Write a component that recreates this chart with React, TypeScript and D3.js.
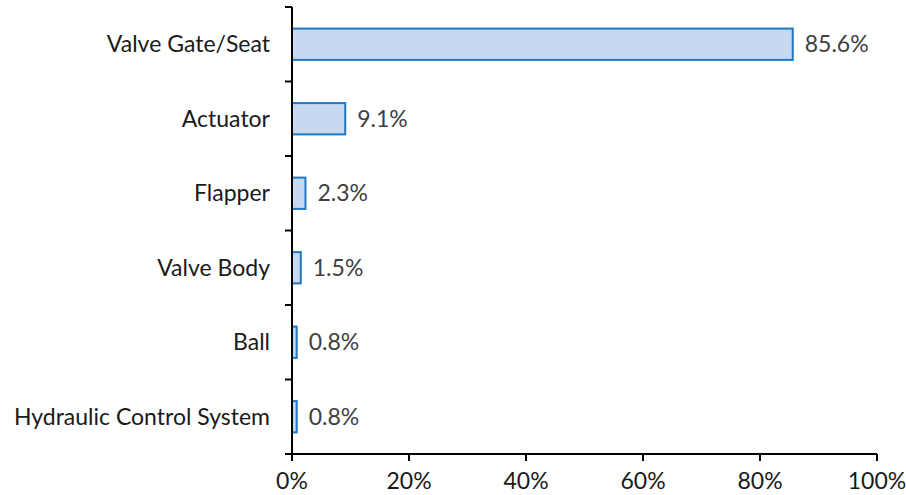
import React from "react";
import * as d3 from "d3";

// Failure share by component
const categories = [
  "Valve Gate/Seat",
  "Actuator",
  "Flapper",
  "Valve Body",
  "Ball",
  "Hydraulic Control System",
];
const shares = [85.6, 9.1, 2.3, 1.5, 0.8, 0.8];
const xTicks = [0, 20, 40, 60, 80, 100];

const W = 906;
const H = 495;
const margin = { left: 292, right: 29, top: 7, bottom: 41 };
const FONT = "Lato, 'Open Sans', sans-serif";
const FS = 23;

export default function App() {
  const x = d3
    .scaleLinear()
    .domain([0, 100])
    .range([margin.left, W - margin.right]);
  const y = d3
    .scaleBand<string>()
    .domain(categories)
    .range([margin.top, H - margin.bottom])
    .paddingInner(0.58)
    .paddingOuter(0.29);
  const bandStep = y.step();
  const bandEdges = categories.map((_, i) => margin.top + i * bandStep);
  bandEdges.push(H - margin.bottom);

  return (
    <svg
      width={W}
      height={H}
      style={{ position: "absolute", left: 0, top: 0 }}
      fontFamily={FONT}
    >
      {categories.map((c, i) => (
        <g key={c}>
          <rect
            x={x(0)}
            y={y(c)!}
            width={x(shares[i]) - x(0)}
            height={y.bandwidth()}
            fill="#C6D9F0"
            stroke="#1F77C4"
            strokeWidth={2}
          />
          <text
            x={x(shares[i]) + 12}
            y={y(c)! + y.bandwidth() / 2}
            dy="0.35em"
            fontSize={FS}
            fill="#404040"
          >
            {shares[i].toFixed(1)}%
          </text>
          <text
            x={margin.left - 22}
            y={y(c)! + y.bandwidth() / 2}
            dy="0.35em"
            textAnchor="end"
            fontSize={FS}
            fill="#1a1a1a"
          >
            {c}
          </text>
        </g>
      ))}
      {/* y axis with band separators */}
      <line
        x1={margin.left}
        x2={margin.left}
        y1={margin.top}
        y2={H - margin.bottom}
        stroke="#000"
        strokeWidth={2}
      />
      {bandEdges.map((e, i) => (
        <line
          key={i}
          x1={margin.left - 7}
          x2={margin.left}
          y1={e}
          y2={e}
          stroke="#000"
          strokeWidth={2}
        />
      ))}
      {/* x axis */}
      <line
        x1={margin.left}
        x2={W - margin.right}
        y1={H - margin.bottom}
        y2={H - margin.bottom}
        stroke="#000"
        strokeWidth={2}
      />
      {xTicks.map((t) => (
        <g key={t}>
          <line
            x1={x(t)}
            x2={x(t)}
            y1={H - margin.bottom}
            y2={H - margin.bottom + 7}
            stroke="#000"
            strokeWidth={2}
          />
          <text
            x={x(t)}
            y={H - margin.bottom + 27}
            dy="0.35em"
            textAnchor="middle"
            fontSize={FS}
            fill="#1a1a1a"
          >
            {t}%
          </text>
        </g>
      ))}
    </svg>
  );
}
